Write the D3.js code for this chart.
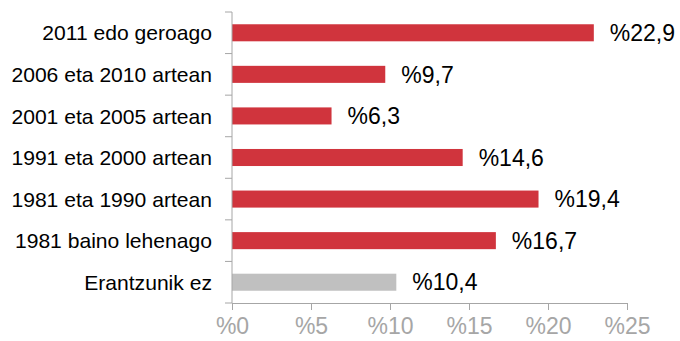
<!DOCTYPE html>
<html>
<head>
<meta charset="utf-8">
<script src="https://cdn.jsdelivr.net/npm/d3@7"></script>
<style>
  body { margin: 0; background: #fff; }
  svg { display: block; font-family: Arial, "Liberation Sans", sans-serif; }
</style>
</head>
<body>
<div id="chart"></div>
<script>
// chart values
var categories = ["2011 edo geroago", "2006 eta 2010 artean", "2001 eta 2005 artean",
    "1991 eta 2000 artean", "1981 eta 1990 artean", "1981 baino lehenago", "Erantzunik ez"];
var values = [22.9, 9.7, 6.3, 14.6, 19.4, 16.7, 10.4];
var valueLabels = ["%22,9", "%9,7", "%6,3", "%14,6", "%19,4", "%16,7", "%10,4"];
var tickValues = [0, 5, 10, 15, 20, 25];
var tickLabels = ["%0", "%5", "%10", "%15", "%20", "%25"];

var margin = {top: 12, right: 53, bottom: 38, left: 232};
var width = 680 - margin.left - margin.right,
    height = 341 - margin.top - margin.bottom;

var svg = d3.select("#chart").append("svg")
    .attr("width", 680)
    .attr("height", 341)
    .append("g")
    .attr("transform", "translate(" + margin.left + "," + margin.top + ")");

var x = d3.scaleLinear().domain([0, 25]).range([0, 395]);
var y = d3.scaleBand().domain(categories).range([0, height]).paddingInner(0.59).paddingOuter(0.295);
var yTicks = d3.scaleBand().domain(categories).range([0, height]);

var data = categories.map(function(c, i) {
    return {cat: c, val: values[i], label: valueLabels[i]};
});

// bars
svg.selectAll("rect.bar")
    .data(data)
    .enter()
    .append("rect")
    .attr("class", "bar")
    .attr("x", 0)
    .attr("y", function(d) { return y(d.cat); })
    .attr("width", function(d) { return x(d.val); })
    .attr("height", y.bandwidth())
    .attr("fill", function(d, i) { return i == categories.length - 1 ? "#c0c0c0" : "#d0343d"; });

// value labels
svg.selectAll("text.val")
    .data(data)
    .enter()
    .append("text")
    .attr("class", "val")
    .attr("x", function(d) { return x(d.val) + 16; })
    .attr("y", function(d) { return y(d.cat) + y.bandwidth() / 2; })
    .attr("dy", "0.36em")
    .attr("font-size", "23px")
    .attr("fill", "#000")
    .text(function(d) { return d.label; });

// y axis: line + ticks at band edges
var axisColor = "#a6a6a6";
svg.append("line")
    .attr("x1", 0).attr("x2", 0)
    .attr("y1", 0).attr("y2", height)
    .attr("stroke", axisColor);

var edges = categories.map(function(c) { return yTicks(c); }).concat([height]);
svg.selectAll("line.ytick")
    .data(edges)
    .enter()
    .append("line")
    .attr("class", "ytick")
    .attr("x1", -7).attr("x2", 0)
    .attr("y1", function(d) { return d; })
    .attr("y2", function(d) { return d; })
    .attr("stroke", axisColor);

svg.selectAll("text.cat")
    .data(categories)
    .enter()
    .append("text")
    .attr("class", "cat")
    .attr("x", -20)
    .attr("y", function(d) { return yTicks(d) + yTicks.bandwidth() / 2; })
    .attr("dy", "0.36em")
    .attr("text-anchor", "end")
    .attr("font-size", "21.1px")
    .attr("fill", "#000")
    .text(function(d) { return d; });

// x axis
var xAxis = d3.axisBottom(x)
    .tickValues(tickValues)
    .tickSize(7)
    .tickPadding(8)
    .tickFormat(function(d, i) { return tickLabels[i]; });

var xg = svg.append("g")
    .attr("class", "axis x-axis")
    .attr("transform", "translate(0," + height + ")")
    .call(xAxis);

xg.select(".domain").attr("stroke", axisColor);
xg.selectAll(".tick line").attr("stroke", axisColor);
xg.selectAll(".tick text")
    .attr("fill", "#a6a6a6")
    .attr("font-size", "23px")
    .attr("font-family", "Arial, 'Liberation Sans', sans-serif");
</script>
</body>
</html>
